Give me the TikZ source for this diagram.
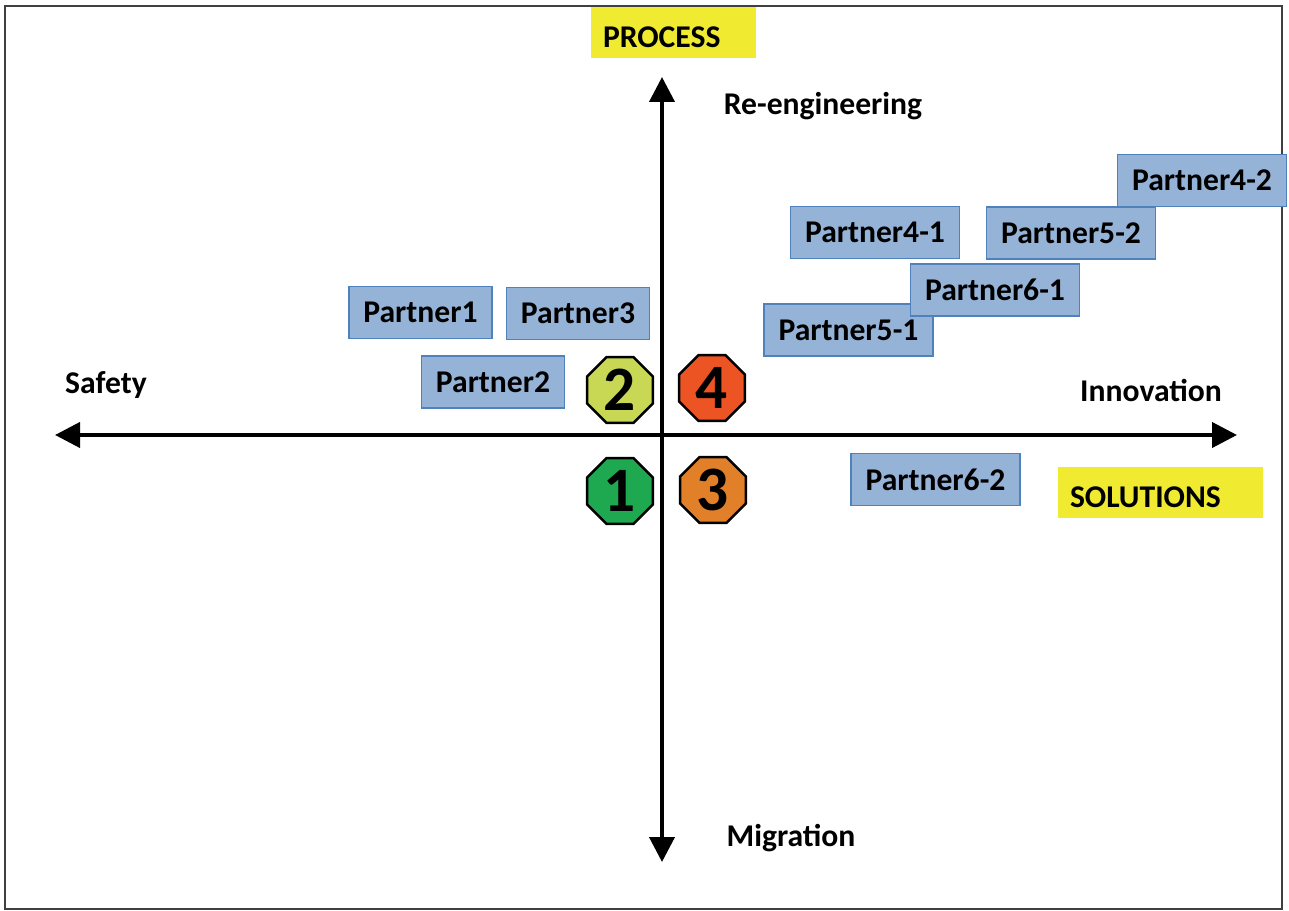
\documentclass[tikz,border=0pt]{standalone}
\usepackage{fontspec}
\setmainfont{Carlito}
\usetikzlibrary{shapes.geometric,arrows.meta}

\definecolor{boxfill}{RGB}{149,179,215}
\definecolor{boxline}{RGB}{79,129,189}
\definecolor{hlyellow}{RGB}{240,234,48}
\definecolor{quadone}{RGB}{30,168,80}
\definecolor{quadtwo}{RGB}{200,216,84}
\definecolor{quadthree}{RGB}{226,128,42}
\definecolor{quadfour}{RGB}{236,84,36}
\newcommand\partfont{\fontsize{18}{22}\selectfont\bfseries}

\tikzset{
  partner/.style={draw=boxline, line width=0.3mm, fill=boxfill, inner xsep=2.9mm,
    minimum height=10.4mm, font=\partfont},
  hlbox/.style={fill=hlyellow, inner xsep=2.5mm, minimum height=10.2mm,
    text height=5.9mm, text depth=0pt, align=left, font=\partfont},
  quad/.style={draw, line width=0.5mm, regular polygon, regular polygon sides=8,
    minimum size=14.2mm, inner sep=0pt, font=\fontsize{36}{40}\selectfont\bfseries},
  axis/.style={line width=0.8mm, {Triangle[length=5mm,width=5mm]}-{Triangle[length=5mm,width=5mm]}},
  axlabel/.style={font=\partfont}
}

\begin{document}
\begin{tikzpicture}[x=0.2mm,y=-0.2mm]
\useasboundingbox (0,0) rectangle (1289,911);
\draw [line width=0.4mm, black!75] (5,6) rectangle (1282,909);

% axes
\coordinate (top) at (662,77);
\coordinate (bottom) at (662,862);
\coordinate (left) at (55,435);
\coordinate (right) at (1237,435);
\draw [axis] (bottom) -- (top);
\draw [axis] (left) -- (right);

\node [axlabel] (reeng) at (823,106) {Re-engineering};
\node [axlabel] (migr) at (791,838) {Migration};
\node [axlabel] (safety) at (106,385) {Safety};
\node [axlabel] (innov) at (1151,390) {Innovation};

\node [hlbox, text width=28mm] (process) at (673,32.5) {PROCESS};
\node [hlbox, text width=36mm] (solutions) at (1160,492.5) {SOLUTIONS};

% partners, later ones on top
\foreach \n/\t/\x/\y in {p1/Partner1/420.5/312.5, p3/Partner3/578/313.5,
  p2/Partner2/493/382, p41/Partner4-1/875/232.5, p42/Partner4-2/1202/180.5,
  p52/Partner5-2/1071/233, p51/Partner5-1/848.5/330, p61/Partner6-1/995/290,
  p62/Partner6-2/935.5/479.5}{
\node [partner] (\n) at (\x,\y) {\t};
}

% quadrants
\foreach \n/\c/\x/\y in {1/quadone/620/491, 2/quadtwo/620/390,
  3/quadthree/713/490, 4/quadfour/712/388}{
\node [quad, fill=\c] (q\n) at (\x,\y) {\n};
}
\end{tikzpicture}
\end{document}
